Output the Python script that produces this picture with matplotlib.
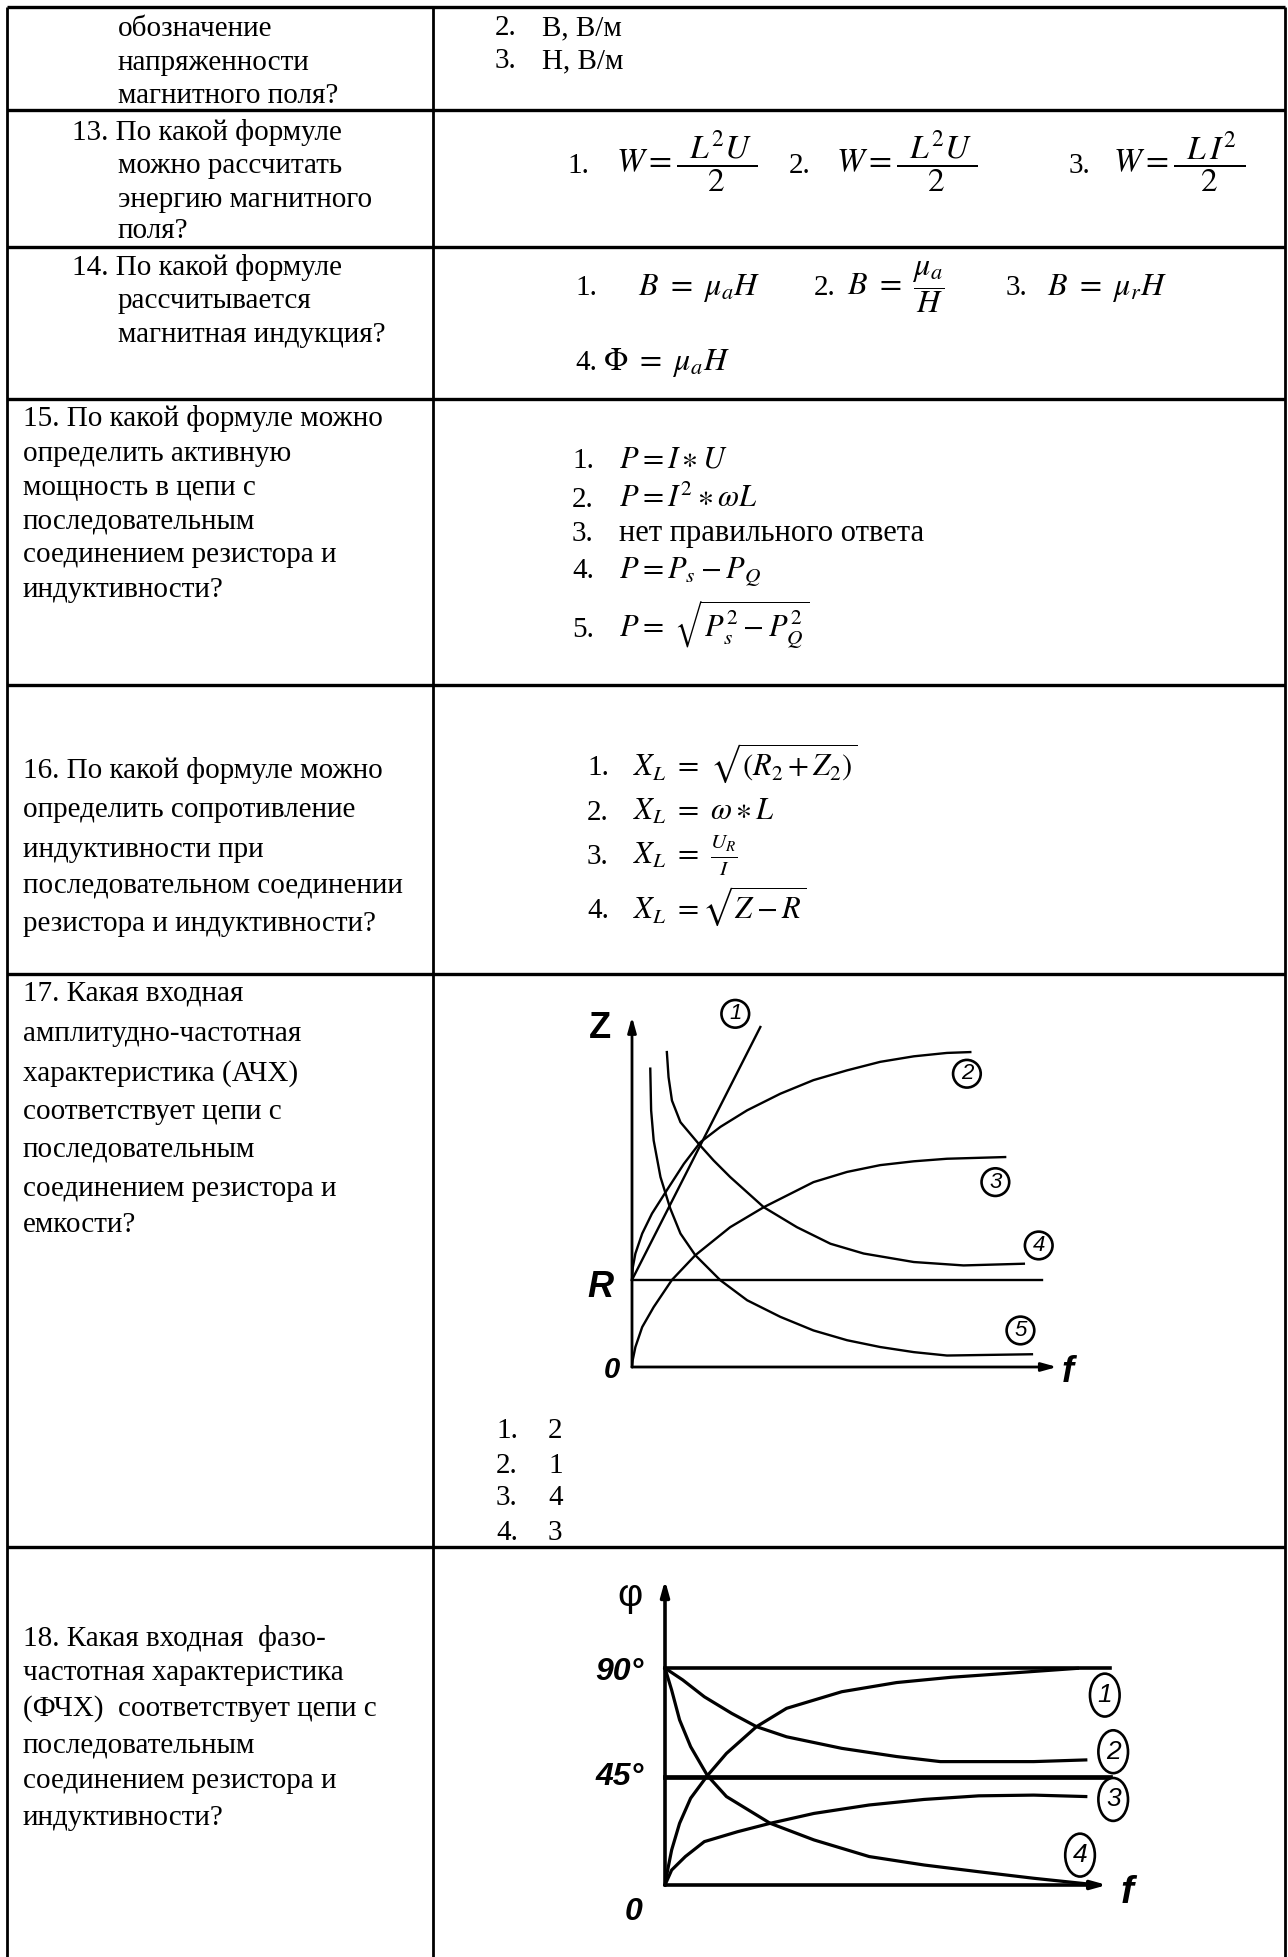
import numpy as np
import matplotlib.pyplot as plt

plt.rcParams['mathtext.fontset'] = 'stix'
SERIF = 'Liberation Serif'
SANS = 'Liberation Sans'

# ---- chart 17 (АЧХ), f and Z in the same arbitrary units ----
r_level = 20.5
z_axis_top = 82.4
f_axis_end = 100.0
r_line_end = 96.5

c1_f = [0.0, 30.2]
c1_z = [20.5, 80.0]
c2_f = [0.0, 0.2, 0.8, 2.4, 4.7, 8.2, 12.2, 16.1, 20.8, 27.1, 34.9, 42.7, 50.6, 58.4, 66.3, 74.1, 79.6]
c2_z = [20.5, 23.5, 26.7, 31.4, 36.1, 41.6, 47.8, 52.9, 56.5, 60.4, 64.3, 67.5, 69.8, 71.8, 73.1, 73.9, 74.1]
c3_f = [0.0, 0.16, 0.8, 2.4, 5.1, 9.4, 14.9, 23.1, 31.0, 42.7, 50.6, 58.4, 66.3, 74.1, 87.8]
c3_z = [0.0, 1.6, 4.7, 9.4, 14.1, 20.5, 26.3, 32.9, 37.6, 43.5, 45.9, 47.5, 48.4, 49.0, 49.4]
c4_f = [8.2, 8.6, 9.4, 11.4, 15.7, 19.2, 23.1, 31.0, 38.8, 46.7, 54.5, 66.3, 78.0, 92.2]
c4_z = [74.1, 68.2, 62.7, 57.6, 52.5, 48.6, 44.7, 37.6, 32.9, 29.0, 26.7, 24.7, 23.9, 24.3]
c5_f = [4.3, 4.5, 5.1, 6.7, 9.0, 11.4, 14.9, 20.8, 27.1, 34.9, 42.7, 50.6, 58.4, 66.3, 74.1, 94.1]
c5_z = [70.2, 60.4, 53.3, 44.7, 37.3, 31.4, 26.3, 20.4, 15.7, 11.8, 8.6, 6.3, 4.7, 3.5, 2.7, 3.0]
amp_curves = [(c1_f, c1_z), (c2_f, c2_z), (c3_f, c3_z), (c4_f, c4_z), (c5_f, c5_z)]
amp_tags = ['1', '2', '3', '4', '5']
amp_tag_f = [24.3, 78.8, 85.5, 95.7, 91.4]
amp_tag_z = [83.1, 69.0, 43.5, 28.6, 8.6]

# ---- chart 18 (ФЧХ), f arbitrary, phi in degrees ----
phi_axis_top = 126.5
phi_line_end = 100.7
p1_f = [0, 0.6, 1.5, 3.3, 5.8, 9.6, 13.9, 20.7, 27.5, 40.0, 52.4, 64.8, 77.2, 93.3]
p1_phi = [0, 6.2, 14.5, 25.6, 36.0, 45.4, 54.6, 65.7, 73.3, 80.2, 84.0, 86.2, 87.8, 89.9]
p2_f = [0, 4.0, 8.9, 15.1, 20.7, 27.5, 40.0, 52.4, 62.3, 83.4, 95.2]
p2_phi = [90, 85.1, 78.1, 71.2, 65.7, 61.5, 56.7, 53.3, 51.2, 51.2, 51.9]
p3_f = [0, 1.5, 4.6, 8.9, 16.4, 23.8, 33.7, 46.2, 58.6, 71.0, 83.4, 95.2]
p3_phi = [0, 6.2, 11.8, 18.0, 22.1, 25.6, 29.7, 33.2, 35.5, 37.0, 37.3, 36.7]
p4_f = [0, 1.5, 3.3, 5.8, 9.6, 13.9, 23.8, 33.7, 46.2, 58.6, 71.0, 83.4, 95.8]
p4_phi = [90, 80.9, 68.5, 57.4, 45.4, 36.7, 25.6, 18.7, 11.8, 8.3, 5.5, 2.8, 0.4]
phase_curves = [(p1_f, p1_phi), (p2_f, p2_phi), (p3_f, p3_phi), (p4_f, p4_phi)]
phase_tags = ['1', '2', '3', '4']
phase_tag_f = [99.5, 101.4, 101.4, 93.9]
phase_tag_phi = [78.8, 55.3, 35.5, 12.4]

# ---- texts of the left column ----
q12 = ["обозначение", "напряженности", "магнитного поля?"]
q13 = ["13. По какой формуле", "можно рассчитать", "энергию магнитного", "поля?"]
q14 = ["14. По какой формуле", "рассчитывается", "магнитная индукция?"]
q15 = ["15. По какой формуле можно", "определить активную", "мощность в цепи с",
       "последовательным", "соединением резистора и", "индуктивности?"]
q16 = ["16. По какой формуле можно", "определить сопротивление", "индуктивности при",
       "последовательном соединении", "резистора и индуктивности?"]
q17 = ["17. Какая входная", "амплитудно-частотная", "характеристика (АЧХ)",
       "соответствует цепи с", "последовательным", "соединением резистора и", "емкости?"]
q18 = ["18. Какая входная  фазо-", "частотная характеристика", "(ФЧХ)  соответствует цепи с",
       "последовательным", "соединением резистора и", "индуктивности?"]

a12 = ["В, В/м", "Н, В/м"]
a13 = [r'$W = \dfrac{\;\;L^{2}U\;}{2}$', r'$W = \dfrac{\;\;L^{2}U\;}{2}$', r'$W = \dfrac{\;\;L\,I^{2}\;}{2}$']
a14 = [r'$B\ =\ \mu_a H$', r'$B\ =\ \dfrac{\mu_a}{H}$', r'$B\ =\ \mu_r H$', r'$\mathit{\Phi}\ =\ \mu_a H$']
a15 = [r'$P = I \ast U$', r'$P = I^2 \ast \omega L$', 'нет правильного ответа',
       r'$P = P_s - P_Q$', r'$P =\ \sqrt{P_s^2 - P_Q^2}$']
a16 = [r'$X_L\ =\ \sqrt{(R_2 + Z_2)}$', r'$X_L\ =\ \omega \ast L$',
       r'$X_L\ =\ \frac{U_R}{I}$', r'$X_L\ = \sqrt{Z - R}$']
a17 = ["2", "1", "4", "3"]

# ---------------- page ----------------
W, H = 1288, 1957
fig = plt.figure(figsize=(W / 100, H / 100), dpi=100)
page = fig.add_axes([0, 0, 1, 1])
page.set_xlim(0, W)
page.set_ylim(H, 0)
page.axis('off')

FS = 21


def put(x, y, s, size=FS, **kw):
    page.text(x, y, s, fontsize=size, family=SERIF, va='baseline', ha='left', **kw)


# table grid
col_x = [7, 433, 1285]
row_y = [7, 110, 247, 399, 685, 974, 1547]
for x in col_x:
    page.plot([x, x], [row_y[0], H], color='k', lw=2.0, solid_capstyle='butt')
for y in row_y:
    page.plot([col_x[0], col_x[-1]], [y, y], color='k', lw=2.4, solid_capstyle='butt')


def question(lines, x_first, x_rest, ys):
    for i, (s, y) in enumerate(zip(lines, ys)):
        put(x_first if i == 0 else x_rest, y, s)


question(q12, 118, 118, [36, 70, 103])
question(q13, 72, 118, [140, 173, 207, 238])
question(q14, 72, 118, [275, 308, 342])
question(q15, 23, 23, [426, 461, 495, 528, 562, 597])
question(q16, 23, 23, [778, 817, 857, 893, 931])
question(q17, 23, 23, [1001, 1041, 1081, 1119, 1157, 1196, 1232])
question(q18, 23, 23, [1646, 1680, 1716, 1753, 1788, 1825])

# row 12 answers
for i, (s, y) in enumerate(zip(a12, [35, 68])):
    put(495, y, f"{i + 2}.")
    put(542, y, s)

# row 13
for i, (s, xn, xf) in enumerate(zip(a13, [567, 789, 1069], [616, 836, 1113])):
    put(xn, 173, f"{i + 1}.")
    put(xf, 173, s, size=24)

# row 14
for i, (s, xn, xf, y) in enumerate(zip(a14, [575, 814, 1006, 575], [638, 847, 1047, 603],
                                       [295, 295, 295, 370])):
    put(xn, y, f"{i + 1}.")
    put(xf, y, s, size=23)

# row 15
for i, (s, y) in enumerate(zip(a15, [468, 507, 541, 578, 637])):
    put(572, y, f"{i + 1}.")
    put(619, y, s, size=22)

# row 16
for i, (s, y) in enumerate(zip(a16, [775, 820, 864, 918])):
    put(587, y, f"{i + 1}.")
    put(633, y, s, size=22)

# row 17 answers
for i, (s, y) in enumerate(zip(a17, [1438, 1473, 1505, 1540])):
    put(496, y, f"{i + 1}.")
    put(548, y, s)


# ---------------- charts ----------------
def chart_axes(x0, x1, y0, y1, ox, oy, ux, uy):
    ax = fig.add_axes([x0 / W, 1 - y1 / H, (x1 - x0) / W, (y1 - y0) / H])
    ax.set_xlim((x0 - ox) / ux, (x1 - ox) / ux)
    ax.set_ylim((oy - y1) / uy, (oy - y0) / uy)
    ax.axis('off')
    return ax


def axis_arrow(ax, tip, lw):
    ax.annotate('', xy=tip, xytext=(0, 0),
                arrowprops=dict(arrowstyle='-|>,head_length=0.9,head_width=0.25',
                                color='k', lw=lw, shrinkA=0, shrinkB=0))


def tag(ax, x, y, s, size, style='circle,pad=0.15'):
    ax.text(x, y, s, ha='center', va='center', fontsize=size, family=SANS,
            fontstyle='italic', bbox=dict(boxstyle=style, fc='white', ec='k', lw=1.9))


# chart 17
ax1 = chart_axes(560, 1100, 990, 1400, 632, 1367, 4.25, 4.25)
axis_arrow(ax1, (f_axis_end, 0), 2.0)
axis_arrow(ax1, (0, z_axis_top), 2.0)
ax1.plot([0, r_line_end], [r_level, r_level], color='k', lw=1.7)
for f, z in amp_curves:
    ax1.plot(f, z, color='k', lw=1.7, solid_joinstyle='round')
for s, x, y in zip(amp_tags, amp_tag_f, amp_tag_z):
    tag(ax1, x, y, s, 16)
ax1.text(-7.5, 79.6, 'Z', fontsize=26, family=SANS, fontweight='bold', ha='center', va='center')
ax1.text(-7.5, 18.8, 'R', fontsize=26, family=SANS, fontweight='bold', fontstyle='italic',
         ha='center', va='center')
ax1.text(-4.7, -0.8, '0', fontsize=21, family=SANS, fontstyle='italic', fontweight='bold',
         ha='center', va='center')
ax1.text(102.4, -1.2, 'f', fontsize=26, family=SANS, fontstyle='italic', fontweight='bold',
         ha='center', va='center')

# chart 18
ax2 = chart_axes(590, 1150, 1570, 1945, 665, 1885, 4.42, 2.41)
axis_arrow(ax2, (f_axis_end, 0), 2.6)
axis_arrow(ax2, (0, phi_axis_top), 2.6)
ax2.plot([0, phi_line_end], [90, 90], color='k', lw=2.6)
ax2.plot([0, phi_line_end], [45, 45], color='k', lw=3.4)
for f, p in phase_curves:
    ax2.plot(f, p, color='k', lw=2.3, solid_joinstyle='round')
for s, x, y in zip(phase_tags, phase_tag_f, phase_tag_phi):
    tag(ax2, x, y, s, 19, style='ellipse,pad=0.12')
ax2.text(-8.0, 120.0, 'φ', fontsize=28, family=SANS, ha='center', va='center')
ax2.text(-10.3, 88.5, '90°', fontsize=23, family=SANS, fontstyle='italic', fontweight='bold',
         ha='center', va='center')
ax2.text(-10.3, 45.0, '45°', fontsize=23, family=SANS, fontstyle='italic', fontweight='bold',
         ha='center', va='center')
ax2.text(-7.2, -11.1, '0', fontsize=23, family=SANS, fontstyle='italic', fontweight='bold',
         ha='center', va='center')
ax2.text(104.5, -3.5, 'f', fontsize=28, family=SANS, fontstyle='italic', fontweight='bold',
         ha='center', va='center')

fig.savefig('out.png', dpi=100, facecolor='white')
